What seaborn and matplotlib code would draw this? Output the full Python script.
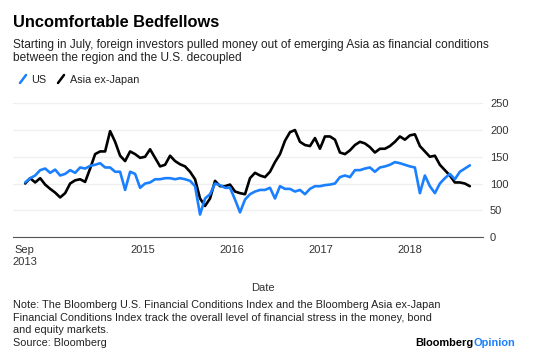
import numpy as np
import pandas as pd
import matplotlib
matplotlib.use("Agg")
import matplotlib.pyplot as plt
from matplotlib.lines import Line2D
import seaborn as sns

# ---- data ----
asia_values = [100, 110, 102, 110, 98, 90, 83, 74, 82, 100, 106, 108, 103, 128, 155, 160, 160, 198, 178, 152,
               142, 160, 155, 148, 150, 164, 148, 132, 135, 152, 142, 136, 132, 122, 108, 72, 58, 72, 105, 95,
               95, 98, 85, 82, 80, 110, 120, 115, 112, 122, 140, 155, 180, 196, 200, 178, 172, 170, 185, 165,
               188, 188, 182, 158, 155, 162, 172, 178, 175, 168, 158, 165, 165, 170, 178, 188, 182, 190, 192, 170,
               160, 150, 152, 135, 125, 115, 102, 102, 100, 95]
us_values = [102, 110, 115, 125, 128, 120, 126, 115, 118, 125, 120, 130, 128, 133, 135, 138, 130, 130, 122, 122,
             88, 122, 118, 92, 100, 102, 108, 108, 110, 110, 108, 110, 108, 105, 95, 42, 72, 80, 100, 97,
             92, 92, 70, 46, 70, 80, 85, 88, 88, 92, 72, 95, 90, 90, 85, 88, 80, 90, 95, 95,
             97, 98, 100, 112, 115, 112, 125, 125, 128, 130, 122, 130, 132, 135, 140, 138, 135, 132, 130, 82,
             115, 95, 82, 100, 110, 118, 108, 122, 128, 134]
start_date, end_date = "2013-09-03", "2018-09-03"
series_names = ["US", "Asia ex-Japan"]
y_ticks = [0, 50, 100, 150, 200, 250]
x_tick_dates = ["2013-09-01", "2015-01-01", "2016-01-01", "2017-01-01", "2018-01-01"]
x_tick_labels = ["Sep\n2013", "2015", "2016", "2017", "2018"]

dates = pd.date_range(start_date, end_date, periods=len(asia_values))
df = pd.concat([
    pd.DataFrame({"Date": dates, "value": us_values, "series": series_names[0]}),
    pd.DataFrame({"Date": dates, "value": asia_values, "series": series_names[1]}),
])

# ---- figure ----
sns.set_style("white")
plt.rcParams["font.family"] = ["Liberation Sans", "DejaVu Sans"]
W, H = 560, 355
fig = plt.figure(figsize=(W / 100, H / 100), dpi=100)

def fx(x):
    return x / W

def fy(y):
    return 1 - y / H

ax_left, ax_right, ax_top, ax_bottom = 13, 483, 103.3, 237
ax = fig.add_axes([fx(ax_left), fy(ax_bottom), (ax_right - ax_left) / W, (ax_bottom - ax_top) / H])

BLUE = "#1a80ff"
palette = {"US": BLUE, "Asia ex-Japan": "#000000"}
sns.lineplot(data=df, x="Date", y="value", hue="series", palette=palette, ax=ax,
             linewidth=1.9, legend=False, hue_order=["Asia ex-Japan", "US"])

ax.set_ylim(0, 250)
ax.set_xlim(pd.Timestamp("2013-07-15"), pd.Timestamp("2018-10-27"))
ax.set_yticks(y_ticks)
ax.yaxis.tick_right()
ax.tick_params(axis="y", length=0, pad=5, labelsize=8, labelcolor="#333333")
ax.grid(axis="y", color="#efefef", linewidth=0.9)
ax.grid(axis="x", visible=False)
for s in ["top", "left", "right"]:
    ax.spines[s].set_visible(False)
ax.spines["bottom"].set_color("#555555")
ax.spines["bottom"].set_linewidth(0.8)
ax.set_xticks([pd.Timestamp(d) for d in x_tick_dates])
ax.set_xticklabels(x_tick_labels)
ax.tick_params(axis="x", length=3, width=0.7, color="#555555", pad=3, labelsize=8, labelcolor="#333333")
for lbl in ax.get_xticklabels():
    lbl.set_linespacing(1.15)
ax.set_xlabel("")
ax.set_ylabel("")
ax.set_axisbelow(True)

# ---- texts ----
fig.text(fx(13), fy(27), "Uncomfortable Bedfellows", fontsize=11.8, fontweight="bold", color="#000000", va="baseline")
fig.text(fx(13), fy(48), "Starting in July, foreign investors pulled money out of emerging Asia as financial conditions",
         fontsize=8.6, color="#222222", va="baseline")
fig.text(fx(13), fy(61), "between the region and the U.S. decoupled", fontsize=8.6, color="#222222", va="baseline")

# legend
for x0, col, label, tx in [(20, BLUE, "US", 31), (58, "#000000", "Asia ex-Japan", 70)]:
    fig.add_artist(Line2D([fx(x0), fx(x0 + 6)], [fy(83), fy(75)], color=col, linewidth=1.8))
    fig.text(fx(tx), fy(83), label, fontsize=7.8, color="#222222", va="baseline")

fig.text(fx(263), fy(291), "Date", fontsize=8, color="#333333", ha="center", va="baseline")

notes = ["Note: The Bloomberg U.S. Financial Conditions Index and the Bloomberg Asia ex-Japan",
         "Financial Conditions Index track the overall level of financial stress in the money, bond",
         "and equity markets.",
         "Source: Bloomberg"]
for i, line in enumerate(notes):
    fig.text(fx(13), fy(308 + i * 12.6), line, fontsize=7.8, color="#222222", va="baseline")

t1 = fig.text(fx(415), fy(346), "Bloomberg", fontsize=7.9, fontweight="bold", color="#000000", va="baseline")
fig.canvas.draw()
bb = t1.get_window_extent()
fig.text(bb.x1 / W, fy(346), "Opinion", fontsize=7.9, fontweight="bold", color=BLUE, va="baseline")

fig.savefig("out.png", dpi=100)
